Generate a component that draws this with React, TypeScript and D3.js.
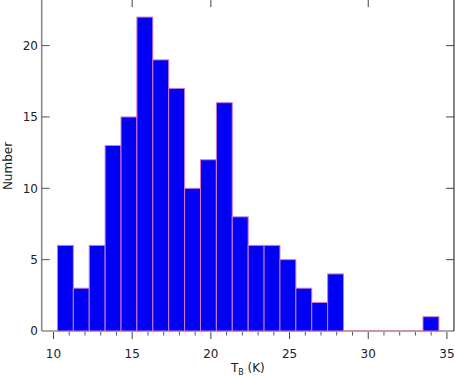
import React, { useEffect, useRef } from 'react'
import * as d3 from 'd3'

// histogram of brightness temperature
const binStart = 10.25
const binWidth = 1.01
const counts = [6, 3, 6, 13, 15, 22, 19, 17, 10, 12, 16, 8, 6, 6, 5, 3, 2, 4, 0, 0, 0, 0, 0, 1]

const xMajorTicks = [10, 15, 20, 25, 30, 35]
const xMinorTicks = d3.range(10, 36).filter(v => v % 5 !== 0)
const xTopTicks = [15, 20, 30]
const yTicks = [0, 5, 10, 15, 20]

export default function App() {
    const svgRef = useRef<SVGSVGElement>(null)

    useEffect(() => {
        const w = 455
        const h = 377
        const left = 41.7
        const right = 454
        const bottom = 331

        const svg = d3.select(svgRef.current)
        svg.selectAll('*').remove()

        const x = d3.scaleLinear().domain([9.25, 35.45]).range([left, right])
        const y = d3.scaleLinear().domain([0, 25]).range([bottom, bottom - 25 * 14.27])

        const font = 'DejaVu Sans, sans-serif'

        // bottom axis line, under the bars
        svg.append('line')
            .attr('x1', left).attr('x2', right).attr('y1', bottom).attr('y2', bottom)
            .attr('stroke', '#555').attr('stroke-width', 1.2)

        // bars
        const bins = counts.map((c, i) => ({ x0: binStart + i * binWidth, x1: binStart + (i + 1) * binWidth, c }))
        svg.append('g')
            .selectAll('rect')
            .data(bins.filter(d => d.c > 0))
            .join('rect')
            .attr('x', d => x(d.x0))
            .attr('y', d => y(d.c))
            .attr('width', d => x(d.x1) - x(d.x0))
            .attr('height', d => y(0) - y(d.c))
            .attr('fill', '#0000f5')
            .attr('stroke', '#d27ac8')
            .attr('stroke-width', 1)
        // empty bins show as a flat outline along the axis
        svg.append('g')
            .selectAll('line')
            .data(bins.filter(d => d.c === 0))
            .join('line')
            .attr('x1', d => x(d.x0)).attr('x2', d => x(d.x1))
            .attr('y1', bottom).attr('y2', bottom)
            .attr('stroke', '#e0909a').attr('stroke-width', 1.2)

        // frame
        svg.append('line')
            .attr('x1', left).attr('x2', left).attr('y1', 0).attr('y2', bottom)
            .attr('stroke', '#8c8c8c').attr('stroke-width', 1.6)
        svg.append('line')
            .attr('x1', right).attr('x2', right).attr('y1', 0).attr('y2', bottom)
            .attr('stroke', '#333').attr('stroke-width', 1.2)

        // x ticks (outward, below axis)
        svg.append('g')
            .selectAll('line')
            .data(xMajorTicks)
            .join('line')
            .attr('x1', d => x(d)).attr('x2', d => x(d))
            .attr('y1', bottom + 1).attr('y2', bottom + 8)
            .attr('stroke', '#444').attr('stroke-width', 1)
        svg.append('g')
            .selectAll('line')
            .data(xMinorTicks)
            .join('line')
            .attr('x1', d => x(d)).attr('x2', d => x(d))
            .attr('y1', bottom + 1).attr('y2', bottom + 4.5)
            .attr('stroke', '#555').attr('stroke-width', 1)
        svg.append('g')
            .selectAll('line')
            .data(xTopTicks)
            .join('line')
            .attr('x1', d => x(d)).attr('x2', d => x(d))
            .attr('y1', 0).attr('y2', 7)
            .attr('stroke', '#444').attr('stroke-width', 1)

        svg.append('g')
            .selectAll('text')
            .data(xMajorTicks)
            .join('text')
            .attr('x', d => x(d))
            .attr('y', 358)
            .attr('text-anchor', 'middle')
            .attr('font-family', font)
            .attr('font-size', 12)
            .attr('fill', '#222')
            .text(d => d)

        // y ticks (inward on both sides)
        svg.append('g')
            .selectAll('line')
            .data(yTicks.filter(d => d > 0))
            .join('line')
            .attr('x1', left).attr('x2', left + 8)
            .attr('y1', d => y(d)).attr('y2', d => y(d))
            .attr('stroke', '#555').attr('stroke-width', 1)
        svg.append('g')
            .selectAll('line')
            .data(yTicks.filter(d => d > 0))
            .join('line')
            .attr('x1', right - 8).attr('x2', right)
            .attr('y1', d => y(d)).attr('y2', d => y(d))
            .attr('stroke', '#444').attr('stroke-width', 1)

        svg.append('g')
            .selectAll('text')
            .data(yTicks)
            .join('text')
            .attr('x', 38)
            .attr('y', d => y(d))
            .attr('dy', '0.36em')
            .attr('text-anchor', 'end')
            .attr('font-family', font)
            .attr('font-size', 12)
            .attr('fill', '#222')
            .text(d => d)

        // axis titles
        svg.append('text')
            .attr('transform', 'translate(12,166) rotate(-90)')
            .attr('text-anchor', 'middle')
            .attr('font-family', font)
            .attr('font-size', 12)
            .attr('fill', '#222')
            .text('Number')

        const xt = svg.append('text')
            .attr('x', (left + right) / 2)
            .attr('y', 372)
            .attr('text-anchor', 'middle')
            .attr('font-family', font)
            .attr('font-size', 12)
            .attr('fill', '#222')
        xt.append('tspan').text('T')
        xt.append('tspan').attr('font-size', 8).attr('dy', 3).text('B')
        xt.append('tspan').attr('dy', -3).text(' (K)')

        svg.attr('width', w).attr('height', h)
    }, [])

    return (
        <svg ref={svgRef} width={455} height={377}
            style={{ position: 'absolute', left: 0, top: 0, background: 'white' }}></svg>
    )
}
